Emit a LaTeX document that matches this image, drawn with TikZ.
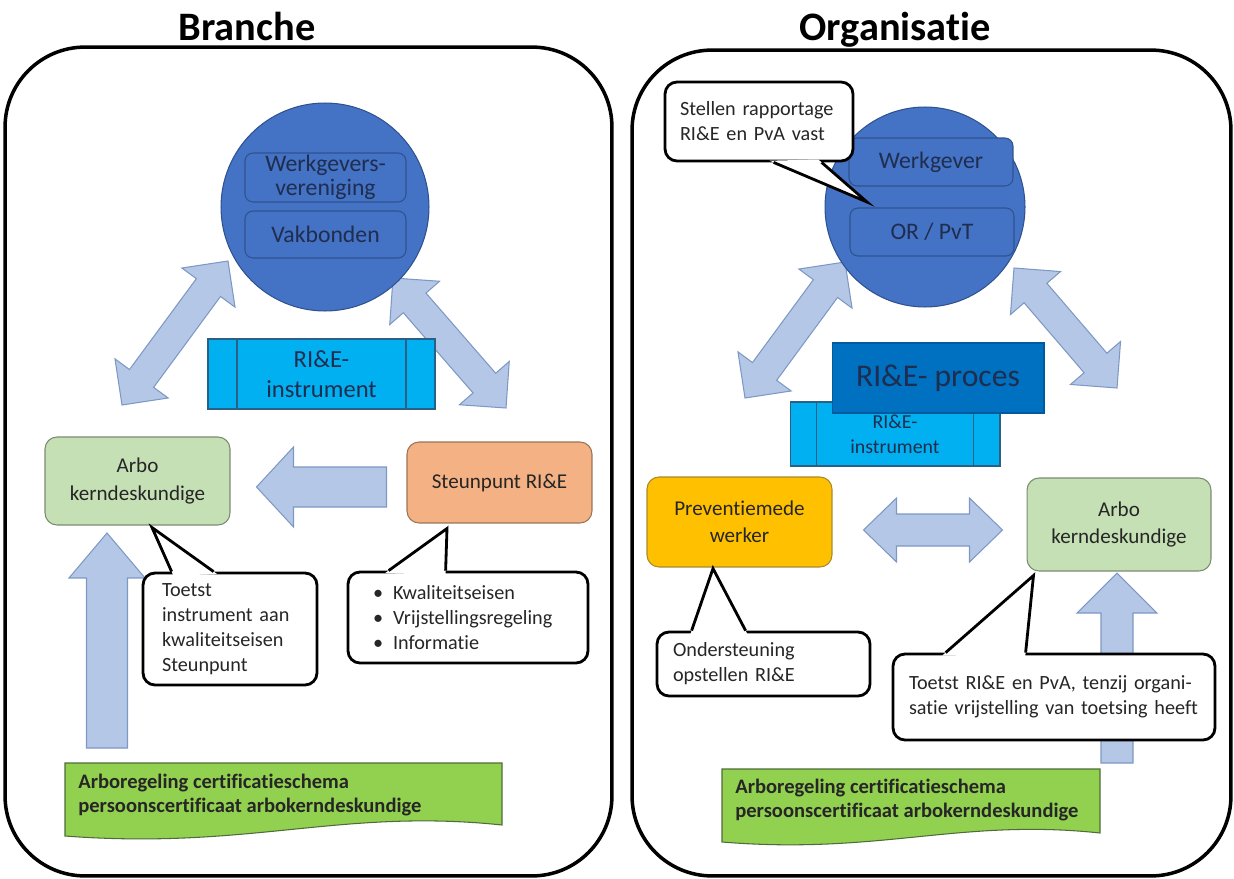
\documentclass[tikz,border=0pt]{standalone}
\usepackage{fontspec}
\setmainfont{Carlito}[RawFeature={-liga;-clig;-calt;-rlig;-dlig}]
\usetikzlibrary{positioning, calc}

\definecolor{arrowfill}{HTML}{B4C7E7}
\definecolor{arrowdraw}{HTML}{7E98C4}
\definecolor{circfill}{HTML}{4472C4}
\definecolor{circdraw}{HTML}{2F528F}
\definecolor{navytext}{HTML}{1F2D4F}
\definecolor{instrfill}{HTML}{00B0F0}
\definecolor{instrdraw}{HTML}{2A5F86}
\definecolor{procfill}{HTML}{0070C0}
\definecolor{procdraw}{HTML}{005A9C}
\definecolor{arbofill}{HTML}{C5E0B4}
\definecolor{arbodraw}{HTML}{7A8C70}
\definecolor{steunfill}{HTML}{F4B183}
\definecolor{steundraw}{HTML}{9A7457}
\definecolor{prevfill}{HTML}{FFC000}
\definecolor{prevdraw}{HTML}{A88A2A}
\definecolor{notefill}{HTML}{92D050}
\definecolor{notedraw}{HTML}{4F6B3A}
\definecolor{darktext}{HTML}{262626}

\tikzset{
 panel/.style={draw, line width=2pt, rounded corners=1.6cm},
 paneltitle/.style={font=\fontsize{23}{27}\selectfont\bfseries, inner sep=0pt, anchor=base},
 blockarrow/.style={fill=arrowfill, draw=arrowdraw, line width=0.6pt},
 circ/.style={circle, fill=circfill, draw=circdraw, line width=0.6pt, inner sep=0pt},
 inbox/.style={rounded corners=0.16cm, draw=circdraw, fill=circfill, line width=0.6pt,
 text=navytext, align=center, inner sep=0pt, font=\fontsize{13.5}{13.9}\selectfont},
 instr/.style={fill=instrfill, draw=instrdraw, line width=0.6pt, text=navytext,
 align=center, inner sep=0pt},
 predef/.style={path picture={
 \draw[instrdraw, line width=0.6pt] ([xshift=#1]path picture bounding box.south west)
 -- ([xshift=#1]path picture bounding box.north west);
 \draw[instrdraw, line width=0.6pt] ([xshift=-#1]path picture bounding box.south east)
 -- ([xshift=-#1]path picture bounding box.north east);}},
 nodebox/.style={rounded corners=0.24cm, line width=0.6pt, align=center, inner sep=0pt,
 text=darktext, font=\fontsize{12}{15.5}\selectfont},
 arbo/.style={nodebox, fill=arbofill, draw=arbodraw},
 steun/.style={nodebox, fill=steunfill, draw=steundraw},
 prev/.style={nodebox, fill=prevfill, draw=prevdraw},
 callbox/.style={draw, fill=white, line width=1.6pt, rounded corners=0.24cm, align=left,
 inner ysep=0pt, text=darktext, font=\fontsize{11.5}{14.2}\selectfont},
 pointerline/.style={line width=1.6pt},
 notebox/.style={fill=notefill, draw=notedraw, line width=0.6pt},
 notetext/.style={font=\fontsize{11.7}{13.9}\selectfont\bfseries, align=left, inner sep=0pt,
 text=black!85}
}

\newcommand{\dblblock}[5]{%
 \draw[blockarrow] (#1) -- ($(#1)!#5!(#2)!#4!90:(#2)$) -- ($(#1)!#5!(#2)!#3!90:(#2)$)
 -- ($(#2)!#5!(#1)!#3!-90:(#1)$) -- ($(#2)!#5!(#1)!#4!-90:(#1)$) -- (#2)
 -- ($(#2)!#5!(#1)!#4!90:(#1)$) -- ($(#2)!#5!(#1)!#3!90:(#1)$)
 -- ($(#1)!#5!(#2)!#3!-90:(#2)$) -- ($(#1)!#5!(#2)!#4!-90:(#2)$) -- cycle;}
\newcommand{\sglblock}[5]{%
 \draw[blockarrow] (#2) -- ($(#2)!#5!(#1)!#4!90:(#1)$) -- ($(#2)!#5!(#1)!#3!90:(#1)$)
 -- ($(#1)!#3!-90:(#2)$) -- ($(#1)!#3!90:(#2)$)
 -- ($(#2)!#5!(#1)!#3!-90:(#1)$) -- ($(#2)!#5!(#1)!#4!-90:(#1)$) -- cycle;}
\newcommand{\calloutptr}[3]{%
 \fill[white] ($(#1)!-2.5pt!(#2)$) -- (#2) -- ($(#3)!-2.5pt!(#2)$) -- cycle;
 \draw[pointerline] (#1) -- (#2) -- (#3);}
\newcommand{\bulitem}{\makebox[0.4cm][l]{\textbullet}}

\begin{document}
\begin{tikzpicture}[x=0.02cm, y=-0.02cm]
 \useasboundingbox (0,0) rectangle (1234,879);

 % two panels
 \node[panel, minimum width=12.14cm, minimum height=16.58cm] (panelL) at (308.5,461.5) {};
 \node[panel, minimum width=11.98cm, minimum height=16.52cm] (panelR) at (931.5,463) {};
 \node[paneltitle] (titleL) at (247,40) {Branche};
 \node[paneltitle] (titleR) at (895,40) {Organisatie};

 % Branche
 \coordinate (dL1) at (228,261);
 \coordinate (dL2) at (122,405);
 \coordinate (dL3) at (393,278);
 \coordinate (dL4) at (506,408);
 \dblblock{dL1}{dL2}{0.3cm}{0.66cm}{0.66cm}
 \dblblock{dL3}{dL4}{0.3cm}{0.66cm}{0.66cm}
 \node[circ, minimum size=4.16cm] (circL) at (325,207) {};
 \node[inbox, minimum width=3.22cm, minimum height=0.98cm] (wgv) at (325.5,177.5)
 {Werkgevers-\\vereniging};
 \node[inbox, minimum width=3.22cm, minimum height=0.94cm] (vakb) at (325.5,234.5)
 {Vakbonden};
 \node[instr, predef=0.58cm, minimum width=4.54cm, minimum height=1.4cm,
 font=\fontsize{14}{17}\selectfont] (instrL) at (321.5,374) {RI\&E-\\instrument};
 \node[arbo, minimum width=3.7cm, minimum height=1.76cm] (arboL) at (137.5,481)
 {Arbo\\kerndeskundige};
 \node[steun, minimum width=3.7cm, minimum height=1.62cm] (steun) at (499.5,482.5)
 {Steunpunt RI\&E};
 \coordinate (hL1) at ($(steun.west)+(-20,4.5)$);
 \coordinate (hL2) at ($(arboL.east)+(26,6)$);
 \sglblock{hL1}{hL2}{0.4cm}{0.8cm}{0.74cm}
 \coordinate (vL1) at (107,748);
 \coordinate (vL2) at (107,533);
 \sglblock{vL1}{vL2}{0.41cm}{0.76cm}{0.9cm}

 \node[callbox, text width=2.72cm, inner xsep=0.38cm, minimum height=2.24cm] (callToets)
 at (230,629) {Toetst\\instrument aan\\kwaliteitseisen\\Steunpunt};
 \coordinate (pT1) at ($(callToets.north west)+(30,0)$);
 \coordinate (pT2) at ($(arboL.south)+(14.5,2)$);
 \coordinate (pT3) at ($(callToets.north west)+(72,0)$);
 \calloutptr{pT1}{pT2}{pT3}
 \node[callbox, text width=3.8cm, inner xsep=0.5cm, minimum height=1.82cm] (callBul)
 at (468,617.5) {\bulitem Kwaliteitseisen\\\bulitem Vrijstellingsregeling\\\bulitem Informatie};
 \coordinate (pB1) at ($(callBul.north west)+(42,0)$);
 \coordinate (pB2) at ($(steun.south)+(-52.5,5)$);
 \coordinate (pB3) at ($(callBul.north west)+(99,0)$);
 \calloutptr{pB1}{pB2}{pB3}

 \draw[notebox] (65,763) -- (502,763) -- (502,825)
 .. controls (340,808) and (250,850) .. (65,836) -- cycle;
 \node[notetext, anchor=west] (noteL) at (78,795)
 {Arboregeling certificatieschema\\persoonscertificaat arbokerndeskundige};

 % Organisatie
 \coordinate (dR1) at (845,262);
 \coordinate (dR2) at (745,398);
 \coordinate (dR3) at (1014,268);
 \coordinate (dR4) at (1117,388);
 \dblblock{dR1}{dR2}{0.3cm}{0.66cm}{0.66cm}
 \dblblock{dR3}{dR4}{0.3cm}{0.66cm}{0.66cm}
 \node[circ, minimum size=4cm] (circR) at (925,207) {};
 \node[inbox, minimum width=3.28cm, minimum height=0.96cm] (wgvR) at (931,162) {Werkgever};
 \node[inbox, minimum width=3.28cm, minimum height=0.96cm] (orpvt) at (932,232) {OR / PvT};
 \node[instr, predef=0.53cm, minimum width=4.2cm, minimum height=1.28cm,
 font=\fontsize{11.3}{14.2}\selectfont] (instrR) at (895,434) {RI\&E-\\instrument};
 \node[instr, fill=procfill, draw=procdraw, minimum width=4.24cm, minimum height=1.4cm,
 font=\fontsize{18}{20}\selectfont] (proces) at (938,378) {RI\&E- proces};
 \node[prev, minimum width=3.7cm, minimum height=1.8cm] (prev) at (739.5,522)
 {Preventiemede\\werker};
 \node[arbo, minimum width=3.68cm, minimum height=1.86cm] (arboR) at (1119,524.5)
 {Arbo\\kerndeskundige};
 \coordinate (hR1) at ($(prev.east)+(31,8)$);
 \coordinate (hR2) at ($(arboR.west)+(-24,5.5)$);
 \dblblock{hR1}{hR2}{0.32cm}{0.64cm}{0.66cm}
 \coordinate (vR1) at (1117,763);
 \coordinate (vR2) at ($(arboR.south)+(-2,1.5)$);
 \sglblock{vR1}{vR2}{0.32cm}{0.8cm}{0.8cm}

 \node[callbox, text width=3.16cm, inner xsep=0.3cm, minimum height=1.58cm] (callStel)
 at (759,121.5) {Stellen rapportage\\RI\&E en PvA vast};
 \coordinate (pS1) at ($(callStel.south west)+(110,0)$);
 \coordinate (pS2) at ($(circR.center)+(-58,-5)$);
 \coordinate (pS3) at ($(callStel.south west)+(158,0)$);
 \calloutptr{pS1}{pS2}{pS3}
 \node[callbox, text width=3.62cm, inner xsep=0.32cm, minimum height=1.28cm] (callOnd)
 at (763.5,664) {Ondersteuning\\opstellen RI\&E};
 \coordinate (pO1) at ($(callOnd.north west)+(36,0)$);
 \coordinate (pO2) at ($(prev.south)+(-26.5,1)$);
 \coordinate (pO3) at ($(callOnd.north west)+(90,0)$);
 \calloutptr{pO1}{pO2}{pO3}
 \node[callbox, text width=5.8cm, inner xsep=0.32cm, minimum height=1.72cm] (callToR)
 at (1054,697) {Toetst RI\&E en PvA, tenzij organi-\\satie vrijstelling van toetsing heeft};
 \coordinate (pR1) at ($(callToR.north west)+(54,0)$);
 \coordinate (pR2) at ($(arboR.south west)+(7,4)$);
 \coordinate (pR3) at ($(callToR.north west)+(134,0)$);
 \calloutptr{pR1}{pR2}{pR3}

 \draw[notebox] (722,769) -- (1100,769) -- (1100,833)
 .. controls (960,818) and (880,855) .. (722,842) -- cycle;
 \node[notetext, anchor=west] (noteR) at (735,800)
 {Arboregeling certificatieschema\\persoonscertificaat arbokerndeskundige};
\end{tikzpicture}
\end{document}
